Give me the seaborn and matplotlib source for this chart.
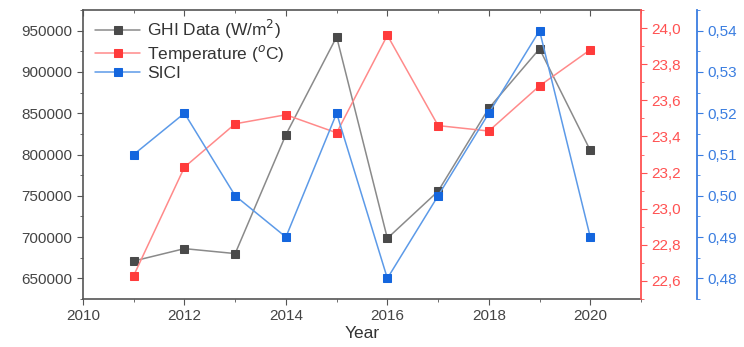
import matplotlib
matplotlib.use("Agg")
import matplotlib.pyplot as plt
import seaborn as sns
import pandas as pd
from matplotlib.ticker import FuncFormatter, MultipleLocator, NullFormatter

years = [2011, 2012, 2013, 2014, 2015, 2016, 2017, 2018, 2019, 2020]
ghi = [671000, 686000, 680000, 824000, 942500, 698500, 755500, 856000, 928000, 805000]
temperature = [22.63, 23.23, 23.47, 23.52, 23.42, 23.96, 23.46, 23.43, 23.68, 23.88]
sici = [0.51, 0.52, 0.50, 0.49, 0.52, 0.48, 0.50, 0.52, 0.54, 0.49]

df = pd.DataFrame({"Year": years, "GHI": ghi, "Temp": temperature, "SICI": sici})

sns.set_style("ticks")
plt.rcParams['font.family'] = ['Liberation Sans', 'DejaVu Sans']

fig = plt.figure(figsize=(7.44, 3.47), dpi=100)
ax = fig.add_axes([83/744, 1-299/347, (641-83)/744, (299-10)/347])
ax2 = ax.twinx()
ax3 = ax.twinx()

red_axis = "#ff5252"
blue_axis = "#3a7de0"
gray_txt = "#444444"
tick_fs = 11

sns.lineplot(data=df, x="Year", y="GHI", ax=ax, color="#8a8a8a", lw=1.1,
             marker="s", markersize=6, markerfacecolor="#4a4a4a", markeredgecolor="#4a4a4a",
             label="GHI Data (W/m$^2$)", legend=False)
sns.lineplot(data=df, x="Year", y="Temp", ax=ax2, color="#ff8a8a", lw=1.1,
             marker="s", markersize=6, markerfacecolor="#ff3b3b", markeredgecolor="#ff3b3b",
             label="Temperature ($^o$C)", legend=False)
sns.lineplot(data=df, x="Year", y="SICI", ax=ax3, color="#5c9ae8", lw=1.1,
             marker="s", markersize=6, markerfacecolor="#1466de", markeredgecolor="#1466de",
             label="SICI", legend=False)

ax.set_xlim(2010, 2021)
ax.set_ylim(625000, 975000)
ax2.set_ylim(22.5, 24.1)
ax3.set_ylim(0.475, 0.545)

ax.xaxis.set_major_locator(MultipleLocator(2))
ax.xaxis.set_minor_locator(MultipleLocator(1))
ax.yaxis.set_major_locator(MultipleLocator(50000))
ax.yaxis.set_minor_locator(MultipleLocator(25000))
ax.yaxis.set_major_formatter(FuncFormatter(lambda v, p: f"{int(round(v))}"))

ax2.yaxis.set_major_locator(MultipleLocator(0.2))
ax2.yaxis.set_minor_locator(MultipleLocator(0.1))
ax2.yaxis.set_major_formatter(FuncFormatter(lambda v, p: f"{v:.1f}".replace(".", ",")))
ax3.yaxis.set_major_locator(MultipleLocator(0.01))
ax3.yaxis.set_minor_locator(MultipleLocator(0.005))
ax3.yaxis.set_major_formatter(FuncFormatter(lambda v, p: f"{v:.2f}".replace(".", ",")))

ax3.spines["right"].set_position(("axes", (697-83)/558))
for s in ["top", "bottom", "left"]:
    ax3.spines[s].set_visible(False)
    ax2.spines[s].set_visible(False)

for s in ["top", "bottom", "left"]:
    ax.spines[s].set_color("#555555")
    ax.spines[s].set_linewidth(1.2)
ax.spines["right"].set_visible(False)
ax2.spines["right"].set_color(red_axis)
ax2.spines["right"].set_linewidth(1.3)
ax3.spines["right"].set_color(blue_axis)
ax3.spines["right"].set_linewidth(1.3)

ax.tick_params(axis="both", which="both", direction="out", colors="#555555",
               labelcolor=gray_txt, labelsize=tick_fs)
ax.tick_params(which="major", length=4)
ax.tick_params(which="minor", length=2.5)

# top ticks pointing inward
top = ax.secondary_xaxis("top")
top.xaxis.set_major_locator(MultipleLocator(2))
top.xaxis.set_minor_locator(MultipleLocator(1))
top.xaxis.set_major_formatter(NullFormatter())
top.tick_params(axis="x", which="both", direction="in", colors="#555555")
top.tick_params(which="major", length=4)
top.tick_params(which="minor", length=2.5)
top.spines["top"].set_visible(False)

ax2.tick_params(axis="y", which="both", colors=red_axis, labelcolor=red_axis, labelsize=tick_fs)
ax2.tick_params(which="major", length=4)
ax2.tick_params(which="minor", length=2.5)
ax3.tick_params(axis="y", which="both", colors=blue_axis, labelcolor=blue_axis, labelsize=tick_fs)
ax3.tick_params(which="major", length=4)
ax3.tick_params(which="minor", length=2.5)

ax.set_xlabel("Year", fontsize=12.5, color="#333333", labelpad=2)
ax.set_ylabel("")
ax2.set_ylabel("")
ax3.set_ylabel("")

handles = []
labels = []
for a in (ax, ax2, ax3):
    h, l = a.get_legend_handles_labels()
    handles += h
    labels += l
leg = ax.legend(handles, labels, loc="upper left", frameon=False, fontsize=12.5,
                bbox_to_anchor=(0.0, 1.015), handlelength=2.6, handletextpad=0.4,
                labelspacing=0.12, borderaxespad=0.3)
for t in leg.get_texts():
    t.set_color("#333333")

fig.savefig("out.png", dpi=100)
